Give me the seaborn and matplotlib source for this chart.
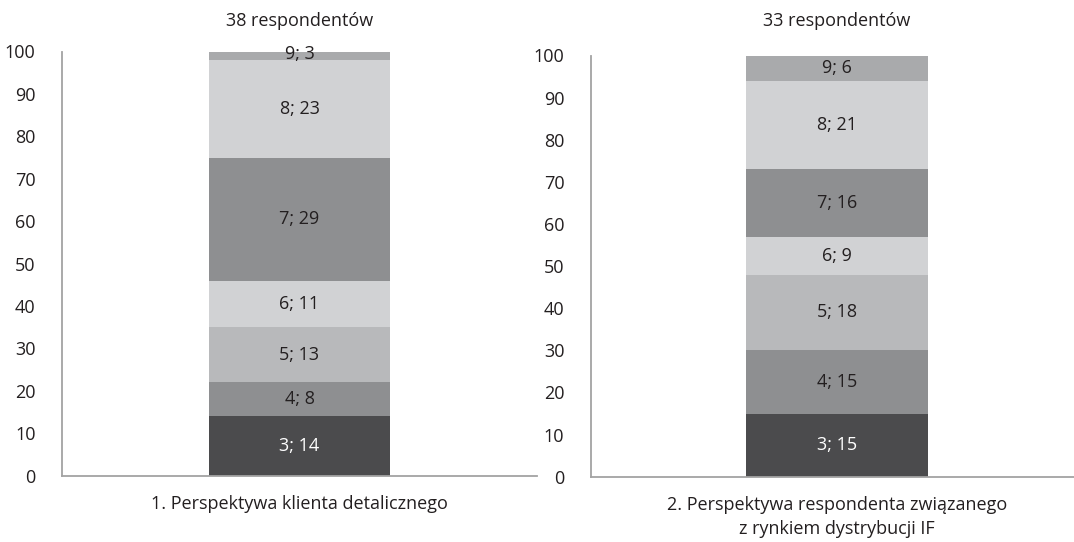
import numpy as np
import pandas as pd
import matplotlib
matplotlib.use("Agg")
import matplotlib.pyplot as plt
import seaborn as sns

sns.set_style("white")
plt.rcParams["font.family"] = ["Open Sans", "DejaVu Sans"]

# Answer categories (scale points) and their shares in each group
categories = [3, 4, 5, 6, 7, 8, 9]
group_titles = ["38 respondentów", "33 respondentów"]
group_labels = ["1. Perspektywa klienta detalicznego",
                "2. Perspektywa respondenta związanego\nz rynkiem dystrybucji IF"]
retail_values = [14, 8, 13, 11, 29, 23, 3]
market_values = [15, 15, 18, 9, 16, 21, 6]
y_ticks = list(range(0, 101, 10))

segment_colors = {3: "#4b4b4d", 4: "#8e8f91", 5: "#b8b9bb", 6: "#d1d2d4",
                  7: "#8e8f91", 8: "#d1d2d4", 9: "#a9aaac"}
text_dark = "#231f20"
spine_gray = "#a3a3a3"
FS = 13

fig = plt.figure(figsize=(10.74, 5.42), dpi=100)
W, H = 1074, 542
ax1 = fig.add_axes([62 / W, 1 - 475.7 / H, (537 - 62) / W, (475.7 - 51.5) / H])
ax2 = fig.add_axes([590.7 / W, 1 - 476.7 / H, (1083 - 590.7) / W, (476.7 - 55.5) / H])

panels = [(ax1, retail_values, 0.3825), (ax2, market_values, 0.369)]

for i, (ax, values, bar_w) in enumerate(panels):
    df = pd.DataFrame({"group": [group_labels[i]] * len(categories),
                       "cat": categories,
                       "value": values})
    df["top"] = df["value"].cumsum()
    df["bottom"] = df["top"] - df["value"]

    # Stack by overlaying cumulative bars, tallest first
    for _, row in df.iloc[::-1].iterrows():
        sns.barplot(data=row.to_frame().T.astype({"top": float}),
                    x="group", y="top", color=segment_colors[row["cat"]],
                    saturation=1, width=bar_w, linewidth=0, ax=ax,
                    err_kws={"linewidth": 0})

    for _, row in df.iterrows():
        mid = row["bottom"] + row["value"] / 2
        ax.text(0, mid, f"{row['cat']}; {row['value']}", ha="center", va="center",
                fontsize=FS, color="white" if row["cat"] == 3 else text_dark)

    ax.set_xlim(-0.5, 0.5)
    ax.set_ylim(0, 100)
    ax.set_yticks(y_ticks)
    ax.set_yticklabels([str(t) for t in y_ticks], fontsize=FS, color=text_dark)
    ax.set_xticks([-0.5, 0.5])
    ax.set_xticklabels(["", ""])
    ax.set_xlabel(group_labels[i], fontsize=FS, color=text_dark, labelpad=3,
                  linespacing=1.4)
    ax.set_ylabel("")
    ax.tick_params(axis="both", direction="out", length=5, width=1.1,
                   color=spine_gray, pad=6)
    ax.tick_params(axis="y", pad=14)
    sns.despine(ax=ax, top=True, right=True)
    for side in ("left", "bottom"):
        ax.spines[side].set_color(spine_gray)
        ax.spines[side].set_linewidth(1.3)
    ax.patch.set_visible(False)

    # Group size heading, centred over the panel's plotting area
    pos = ax.get_position()
    fig.text((pos.x0 + pos.x1) / 2 if i == 0 else 836.8 / W, 1 - 21 / H,
             group_titles[i], ha="center", va="center", fontsize=FS,
             color=text_dark)

fig.savefig("out.png", dpi=100)
